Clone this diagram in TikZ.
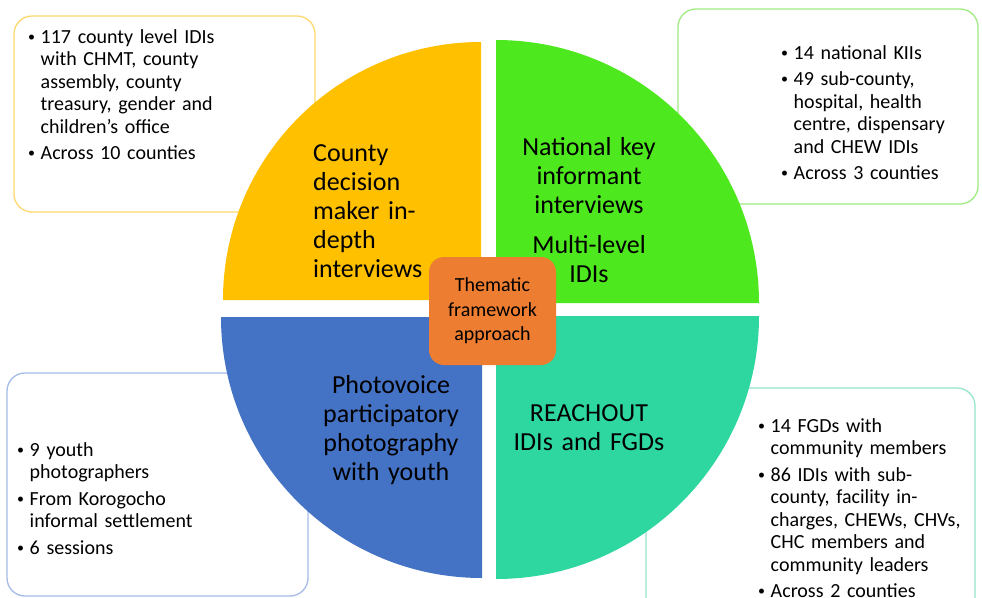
\documentclass[tikz,border=0pt]{standalone}
\usepackage{fontspec}
\setmainfont{Carlito}

\definecolor{countyq}{RGB}{255,192,0}
\definecolor{nationq}{RGB}{78,232,30}
\definecolor{photoq}{RGB}{68,114,196}
\definecolor{reachq}{RGB}{46,214,160}
\definecolor{themeq}{RGB}{237,125,49}
\definecolor{countyline}{RGB}{255,217,110}
\definecolor{nationline}{RGB}{160,236,130}
\definecolor{photoline}{RGB}{165,188,230}
\definecolor{reachline}{RGB}{150,230,200}

\newcommand{\bitem}[1]{\hangindent=12.5pt\hangafter=1\noindent
  \hbox to 12.5pt{\raisebox{1.6pt}{\fontsize{14}{14}\selectfont\textbullet}\hfil}#1\par}

\begin{document}
\begin{tikzpicture}[%
    x=1pt,
    y=-1pt,
    quad/.style={text width=170pt, inner sep=0pt, font=\fontsize{26}{29}\selectfont},
    quadl/.style={quad, align=left, anchor=base west},
    quadc/.style={quad, align=center, anchor=base},
    note/.style={text width=230pt, inner sep=0pt, align=left, anchor=base west,
      font=\fontsize{20}{22.5}\selectfont,
      execute at begin node={\setlength{\parskip}{4pt}}},
    notebox/.style={draw=#1, line width=1.3pt, rounded corners=18pt},
    theme/.style={fill=themeq, rounded corners=15pt, inner sep=0pt,
      minimum width=127pt, minimum height=108pt, text width=115pt, align=center,
      font=\fontsize{20}{24.5}\selectfont}
  ]
    \fill[white] (0,0) rectangle (982,597);
    \useasboundingbox (0,0) rectangle (982,597);
    \clip (0,0) rectangle (982,597);

    \draw[notebox=countyline] (14,16) rectangle (315,212);
    \draw[notebox=nationline] (678,9) rectangle (978,204);
    \draw[notebox=photoline]  (7,373) rectangle (308,596);
    \draw[notebox=reachline]  (646,388) rectangle (975,630);

    \fill[countyq] (481,300) -- ++(-258,0) arc[start angle=180, end angle=270, radius=258] -- cycle;
    \fill[nationq] (496,303) -- ++(0,-263) arc[start angle=270, end angle=360, radius=263] -- cycle;
    \fill[photoq]  (482,317) -- ++(-261,0) arc[start angle=180, end angle=90, radius=261] -- cycle;
    \fill[reachq]  (496,316) -- ++(263,0) arc[start angle=0, end angle=90, radius=263] -- cycle;

    \node[quadl] (county) at (313,161) {County\\decision\\maker in-\\depth\\interviews};
    \node[quadc] (nation) at (589,155) {National key\\informant\\interviews\\[11pt]Multi-level\\IDIs};
    \node[quadc] (photo) at (391,393) {Photovoice\\participatory\\photography\\with youth};
    \node[quadc] (reach) at (589,421) {REACHOUT\\IDIs and FGDs};

    \node[theme] (theme) at (492.5,311) {Thematic\\framework\\approach};

    \node[note] (countynote) at (28,43) {\bitem{117 county level IDIs\newline with CHMT, county\newline assembly, county\newline treasury, gender and\newline children’s office}\bitem{Across 10 counties}};
    \node[note] (nationnote) at (781,59) {\bitem{14 national KIIs}\bitem{49 sub-county,\newline hospital, health\newline centre, dispensary\newline and CHEW IDIs}\bitem{Across 3 counties}};
    \node[note] (photonote) at (17,456) {\bitem{9 youth\newline photographers}\bitem{From Korogocho\newline informal settlement}\bitem{6 sessions}};
    \node[note] (reachnote) at (758,432) {\bitem{14 FGDs with\newline community members}\bitem{86 IDIs with sub-\newline county, facility in-\newline charges, CHEWs, CHVs,\newline CHC members and\newline community leaders}\bitem{Across 2 counties}};
  \end{tikzpicture}
\end{document}
